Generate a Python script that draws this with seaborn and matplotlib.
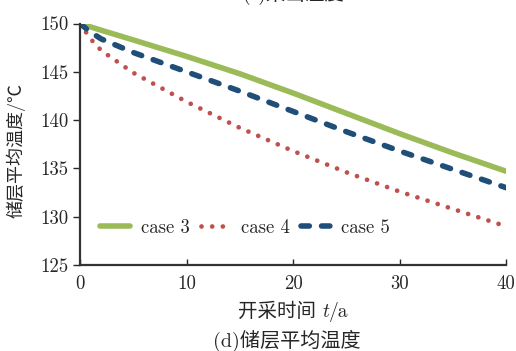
import numpy as np
import pandas as pd
import matplotlib
matplotlib.use("Agg")
import matplotlib.pyplot as plt
from matplotlib.offsetbox import TextArea, HPacker, AnchoredOffsetbox
import seaborn as sns

# Production time (years) and average reservoir temperature (°C) per case
years = [0, 1, 2, 5, 10, 15, 20, 25, 30, 35, 40]
case3 = [150.0, 149.65, 149.3, 148.3, 146.6, 144.8, 142.8, 140.7, 138.6, 136.6, 134.7]
case4 = [150.0, 148.4, 147.2, 144.9, 141.9, 139.2, 136.8, 134.6, 132.6, 130.8, 129.0]
case5 = [150.0, 149.1, 148.4, 147.0, 145.0, 143.0, 140.9, 138.8, 136.8, 134.9, 133.0]
case_names = ["case 3", "case 4", "case 5"]

x_ticks = [0, 10, 20, 30, 40]
y_ticks = [125, 130, 135, 140, 145, 150]

sns.set_style("ticks")
plt.rcParams["font.family"] = ["cmr10", "Noto Sans CJK SC", "DejaVu Sans"]
plt.rcParams["axes.unicode_minus"] = False

df = pd.DataFrame({
    "t": years * 3,
    "T": case3 + case4 + case5,
    "case": sum([[n] * len(years) for n in case_names], []),
})

fig = plt.figure(figsize=(5.16, 3.51), dpi=100)
ax = fig.add_axes([0.155, 0.245, 0.826, 0.688])

styles = {
    "case 3": dict(color="#9BBB59", linestyle="-", linewidth=4.0),
    "case 4": dict(color="#C0504D", linestyle=(0, (0.01, 2.25)), linewidth=3.4,
                   dash_capstyle="round"),
    "case 5": dict(color="#1F4E79", linestyle=(0, (1.5, 2.2)), linewidth=4.0,
                   dash_capstyle="round"),
}
for name in case_names:
    sub = df[df["case"] == name]
    sns.lineplot(data=sub, x="t", y="T", ax=ax, label=name, **styles[name])

ax.set_xlim(0, 40)
ax.set_ylim(125, 150)
ax.set_xticks(x_ticks)
ax.set_yticks(y_ticks)
ax.tick_params(axis="x", direction="in", length=4, width=1, labelsize=13.5, pad=7)
ax.tick_params(axis="y", direction="out", length=5, width=1, labelsize=13.5, pad=3)
sns.despine(ax=ax)
for s in ("left", "bottom"):
    ax.spines[s].set_linewidth(1.6)
    ax.spines[s].set_color("#333333")

ax.set_xlabel("")
ax.set_ylabel("储层平均温度/℃", fontsize=13)
ax.yaxis.set_label_coords(-0.128, 0.474)

# x-axis label with an italic variable name
xlabel_box = HPacker(children=[
    TextArea("开采时间 ", textprops=dict(fontsize=14)),
    TextArea("t", textprops=dict(fontsize=14, family=["cmmi10", "DejaVu Serif"])),
    TextArea("/a", textprops=dict(fontsize=14)),
], align="baseline", pad=0, sep=0)
fig.add_artist(AnchoredOffsetbox(loc="center", child=xlabel_box, frameon=False,
                                 pad=0, borderpad=0,
                                 bbox_to_anchor=(0.568, 0.112),
                                 bbox_transform=fig.transFigure))

ax.legend(loc="center left", bbox_to_anchor=(0.03, 0.155), ncol=3,
          frameon=False, fontsize=13.5, handlelength=1.6,
          handletextpad=0.55, columnspacing=0.6, borderaxespad=0)

fig.text(0.556, 0.028, "(d)储层平均温度", ha="center", va="center", fontsize=14.5)
fig.text(0.567, 1.015, "(c)采出温度", ha="center", va="center", fontsize=14)

fig.savefig("out.png", dpi=100)
